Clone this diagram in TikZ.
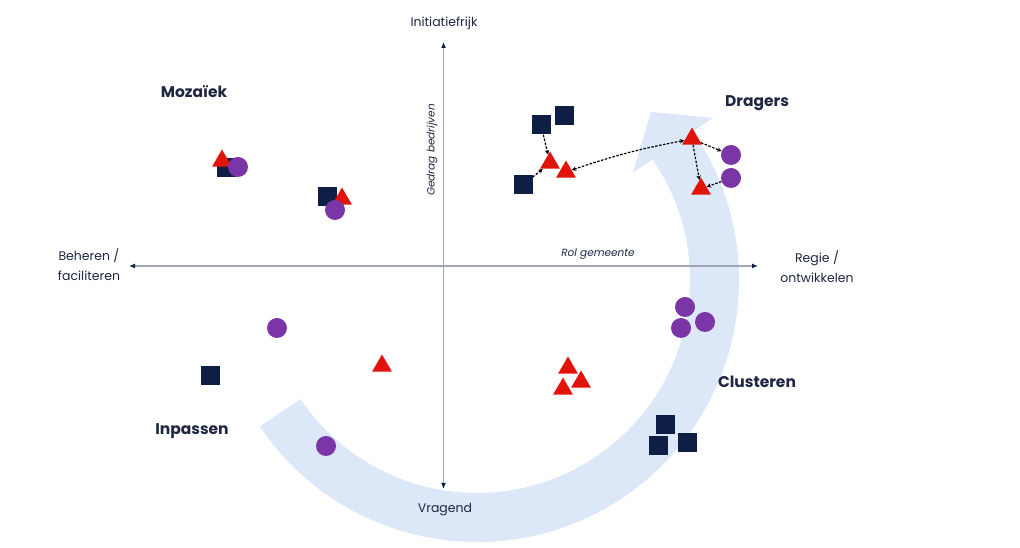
\documentclass[tikz,border=0pt]{standalone}
\usepackage{fontspec}
\setmainfont{Poppins}
\usetikzlibrary{shapes.geometric,arrows.meta}
\definecolor{navy}{HTML}{0E1E45}
\definecolor{tred}{HTML}{E2130B}
\definecolor{tpurple}{HTML}{7A36A6}
\definecolor{band}{HTML}{DCE7F7}
\definecolor{axisline}{HTML}{9EA6B8}
\definecolor{txt}{HTML}{1E2642}
\tikzset{
  sq/.style={rectangle,fill=navy,minimum size=19pt,inner sep=0pt},
  tri/.style={regular polygon,regular polygon sides=3,fill=tred,minimum size=23pt,inner sep=0pt},
  dot/.style={circle,fill=tpurple,minimum size=20pt,inner sep=0pt},
  quad/.style={font=\bfseries\fontsize{15.5}{18}\selectfont,text=txt},
  axlab/.style={font=\fontsize{12.5}{20}\selectfont,text=txt,align=center},
  smalllab/.style={font=\itshape\fontsize{10.5}{12}\selectfont,text=txt},
  axis/.style={draw=axisline,line width=1.3pt,{Latex[length=6pt,width=5pt,color=navy]}-{Latex[length=6pt,width=5pt,color=navy]}},
  dlink/.style={draw=black,dash pattern=on 2.5pt off 1.5pt,line width=1.2pt,-{Stealth[length=4.5pt,width=4.5pt]}},
}
\begin{document}
\begin{tikzpicture}[x=1pt,y=1pt]
\useasboundingbox (0,0) rectangle (1020,548);
% circular band arrow
\begin{scope}[shift={(477,268)}]
\fill[band] (214:213) -- (214:262) arc[start angle=214,end angle=394.5,radius=262]
  -- (34.5:286) -- (44:242) -- (34.5:189) -- (34.5:213)
  arc[start angle=34.5,end angle=-146,radius=213] -- cycle;
\end{scope}
% axes
\coordinate (xl) at (129,282);
\coordinate (xr) at (758,282);
\coordinate (yb) at (443.5,59);
\coordinate (yt) at (443.5,506);
\draw[axis] (xl) -- (xr);
\draw[axis] (yb) -- (yt);
% axis labels
\node[axlab] (top) at (444,525) {Initiatiefrijk};
\node[axlab] (bot) at (445,38) {Vragend};
\node[axlab] (lft) at (89,283) {Beheren /\\faciliteren};
\node[axlab] (rgt) at (817,281) {Regie /\\ontwikkelen};
\node[smalllab] (rol) at (598,294) {Rol gemeente};
\node[smalllab,rotate=90] (ged) at (432,398) {Gedrag bedrijven};
% quadrant labels
\node[quad] (moz) at (194,456) {Mozaïek};
\node[quad] (dra) at (757,445) {Dragers};
\node[quad] (clu) at (757,166) {Clusteren};
\node[quad] (inp) at (192,117) {Inpassen};
% Mozaiek
\node[sq] (m1s) at (226,380) {};
\node[tri] (m1t) at (222,387) {};
\node[dot] (m1c) at (238,381) {};
\node[sq] (m2s) at (327,351) {};
\node[tri] (m2t) at (342,349) {};
\node[dot] (m2c) at (335,338) {};
% Dragers cluster
\node[sq] (A) at (541,423) {};
\node[sq] (B) at (564,432) {};
\node[tri] (C) at (550,385) {};
\node[tri] (D) at (566,376) {};
\node[sq] (E) at (523,363) {};
\node[tri] (F) at (692,409) {};
\node[dot] (G) at (731,393) {};
\node[dot] (H) at (731,370) {};
\node[tri] (I) at (701,359) {};
\draw[dlink] (A) -- (C);
\draw[dlink] (E) -- (C);
\draw[dlink,{Stealth[length=4.5pt,width=4.5pt]}-{Stealth[length=4.5pt,width=4.5pt]}] (D) to[bend left=4] (F);
\draw[dlink] (F) -- (G);
\draw[dlink] (F) -- (I);
\draw[dlink] (H) -- (I);
% Clusteren
\node[dot] (c1) at (685,241) {};
\node[dot] (c2) at (681,220) {};
\node[dot] (c3) at (705,226) {};
\node[sq] (s1) at (665,123) {};
\node[sq] (s2) at (658,102) {};
\node[sq] (s3) at (687,105) {};
\node[tri] (t1) at (568,180) {};
\node[tri] (t2) at (581,166) {};
\node[tri] (t3) at (563,159) {};
% Inpassen
\node[dot] (i1) at (277,220) {};
\node[sq] (i2) at (210,172) {};
\node[tri] (i3) at (382,182) {};
\node[dot] (i4) at (326,102) {};
\end{tikzpicture}
\end{document}
